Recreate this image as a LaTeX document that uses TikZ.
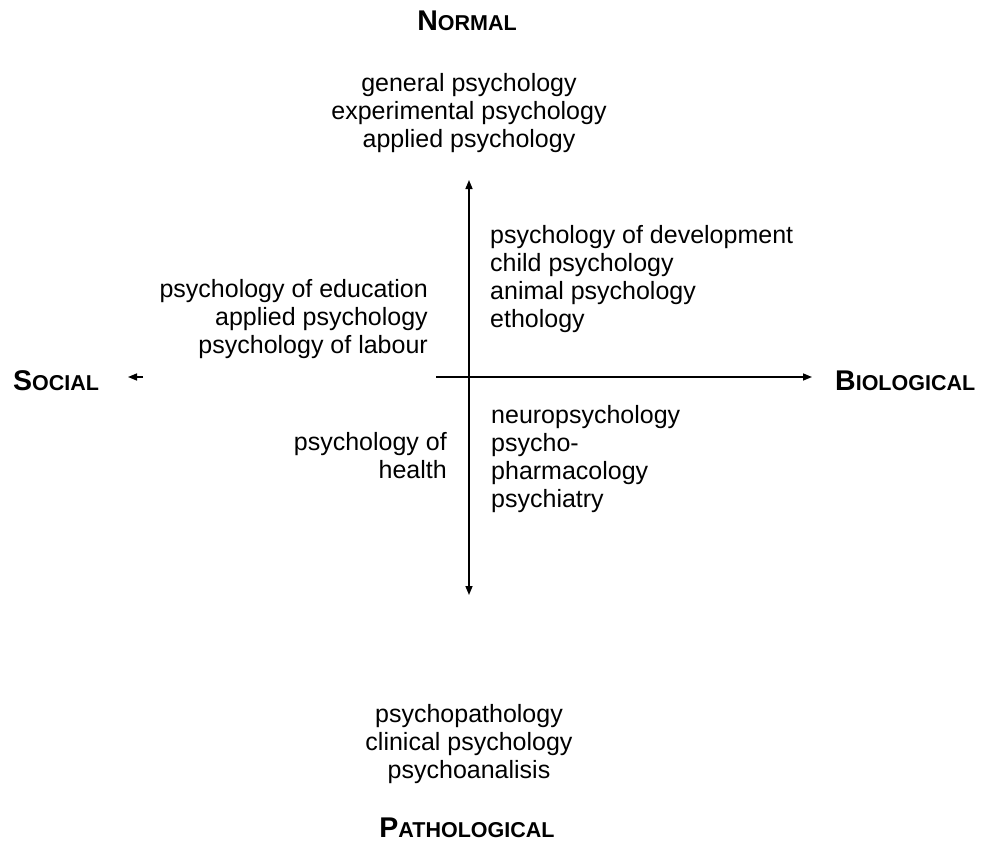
\documentclass[tikz,border=0pt]{standalone}
\usepackage{fontspec}
\setmainfont{Liberation Sans}
\usetikzlibrary{arrows.meta}
\newcommand{\axisname}[2]{\textbf{\fontsize{28.5}{28.5}\selectfont #1\fontsize{21.5}{21.5}\selectfont #2}}

\begin{document}
\begin{tikzpicture}[x=1pt,y=-1pt,
  every node/.style={inner sep=0pt,font=\fontsize{25}{28}\selectfont},
  tip/.tip={Triangle[length=9pt,width=7pt]},
  ax/.style={line width=1.5pt}]
\useasboundingbox (0,0) rectangle (990,846);
\coordinate (left) at (436,377);
\coordinate (right) at (812,377);
\coordinate (top) at (469,180);
\coordinate (bottom) at (469,595);
\coordinate (s0) at (143,377);
\coordinate (s1) at (128,377);
\draw[ax,-tip] (left)--(right);
\draw[ax,tip-tip] (top)--(bottom);
\draw[ax,-tip] (s0)--(s1);

\node[anchor=base] (normal) at (467,30) {\axisname{N}{ORMAL}};
\node[anchor=base] (pathological) at (467,837) {\axisname{P}{ATHOLOGICAL}};
\node[anchor=base west] (social) at (13,390) {\axisname{S}{OCIAL}};
\node[anchor=base west] (biological) at (835,390) {\axisname{B}{IOLOGICAL}};

% base = baseline of the last line
\node[anchor=base,align=center] (general) at (469,147)
  {general psychology\\experimental psychology\\applied psychology};
\node[anchor=base east,align=right] (education) at (428,353)
  {psychology of education\\applied psychology\\psychology of labour};
\node[anchor=base west,align=left] (development) at (490,327)
  {psychology of development\\child psychology\\animal psychology\\ethology};
\node[anchor=base west,align=left] (neuro) at (491,507)
  {neuropsychology\\psycho-\\pharmacology\\psychiatry};
\node[anchor=base east,align=right] (health) at (447,478)
  {psychology of\\health};
\node[anchor=base,align=center] (clinical) at (469,778)
  {psychopathology\\clinical psychology\\psychoanalisis};
\end{tikzpicture}
\end{document}
